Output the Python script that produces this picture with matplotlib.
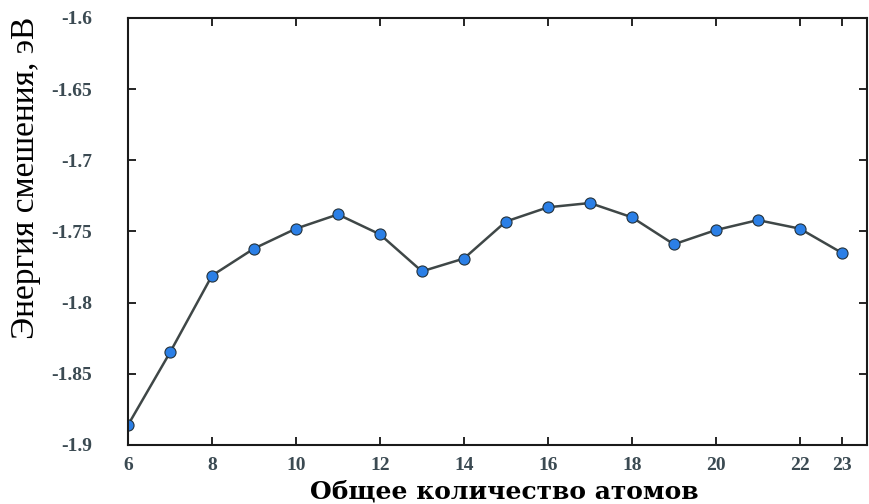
import numpy as np
import matplotlib.pyplot as plt

# total number of atoms and mixing energy (eV)
atoms = [6, 7, 8, 9, 10, 11, 12, 13, 14, 15, 16, 17, 18, 19, 20, 21, 22, 23]
energy = [-1.886, -1.835, -1.781, -1.762, -1.748, -1.738, -1.752, -1.778,
          -1.769, -1.743, -1.733, -1.730, -1.740, -1.759, -1.749, -1.742,
          -1.748, -1.765]
xticks = [6, 8, 10, 12, 14, 16, 18, 20, 22, 23]
yticks = [-1.9, -1.85, -1.8, -1.75, -1.7, -1.65, -1.6]
ytick_labels = ['-1.9', '-1.85', '-1.8', '-1.75', '-1.7', '-1.65', '-1.6']

fig = plt.figure(figsize=(8.69, 5.04), dpi=100)
ax = fig.add_axes([0.1473, 0.1171, 0.8504, 0.8472])

ax.plot(atoms, energy, color='#3f4747', lw=1.8, marker='o', ms=8,
        mfc='#2b7fe6', mec='#24323a', mew=0.8)

ax.set_xlim(6, 23.6)
ax.set_ylim(-1.9, -1.6)
ax.set_xticks(xticks)
ax.set_xticklabels([str(t) for t in xticks])
ax.set_yticks(yticks)
ax.set_yticklabels(ytick_labels)

ax.tick_params(direction='in', length=6, width=1.2, top=True, right=True,
               labelsize=14, labelcolor='#3b4a52')
for lab in ax.get_xticklabels() + ax.get_yticklabels():
    lab.set_family('Liberation Serif')
    lab.set_fontweight('bold')
ax.tick_params(axis='x', pad=9)
ax.tick_params(axis='y', pad=26)

for s in ax.spines.values():
    s.set_linewidth(1.5)
    s.set_color('#1a1a1a')

ax.set_ylabel('Энергия смешения, эВ', family='Liberation Serif', fontsize=24)
ax.yaxis.set_label_coords(-0.118, 0.625)
ax.set_xlabel('Общее количество атомов', family='DejaVu Serif',
              fontweight='bold', fontsize=18)
ax.xaxis.set_label_coords(0.509, -0.082)

fig.savefig('out.png', dpi=100)
